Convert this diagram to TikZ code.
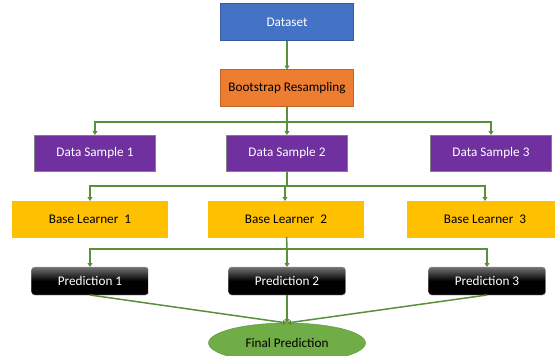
\documentclass[tikz,border=0pt]{standalone}
\usepackage{fontspec}
\setmainfont{Carlito}
\usetikzlibrary{arrows.meta}
\usetikzlibrary{shapes.geometric}
\definecolor{dsblue}{HTML}{4472C4}
\definecolor{bsorange}{HTML}{ED7D31}
\definecolor{smpurple}{HTML}{7030A0}
\definecolor{lngold}{HTML}{FFC000}
\definecolor{fpgreen}{HTML}{70AD47}
\definecolor{arrgreen}{HTML}{5B8F3A}
\tikzstyle{block}=[draw, inner sep=0, outer sep=0, minimum height=36pt, font=\fontsize{13.2}{15}\selectfont]
\tikzstyle{datablock}=[block, fill=dsblue, draw=dsblue!80!black, text=white, minimum width=133pt, minimum height=37pt]
\tikzstyle{bootblock}=[block, fill=bsorange, draw=bsorange!80!black, minimum width=133pt, minimum height=37pt]
\tikzstyle{sampleblock}=[block, fill=smpurple, draw=gray, text=white, minimum width=121pt]
\tikzstyle{learnerblock}=[block, fill=lngold, draw=lngold, minimum width=155pt]
\tikzstyle{predblock}=[block, rounded corners=3pt, top color=black!55, bottom color=black, middle color=black, draw=gray!60, text=white, minimum width=117pt, minimum height=28pt]
\tikzstyle{finalblock}=[block, ellipse, fill=fpgreen, draw=fpgreen!85!black, minimum width=157pt, minimum height=40pt]
\tikzstyle{flow}=[draw=arrgreen, line width=1.5pt, -{Triangle[width=5pt,length=4pt]}]
\tikzstyle{bagging}=[x=1pt, y=-1pt,
                     % Keep the page at its fixed size.
                     execute at begin picture={\useasboundingbox (0,0) rectangle (555,356); \clip (0,0) rectangle (555,356);}]

\begin{document}
\begin{tikzpicture}[bagging]
        \node[datablock]                 (data) at (287, 22) {Dataset};
        \node[bootblock]                 (boot) at (287, 88) {Bootstrap Resampling};
        \node[sampleblock]               (S1) at (95, 153) {Data Sample 1};
        \node[sampleblock]               (S2) at (287, 153) {Data Sample 2};
        \node[sampleblock]               (S3) at (491, 153) {Data Sample 3};
        \node[learnerblock]              (L1) at (90, 219) {Base Learner\ \ 1};
        \node[learnerblock]              (L2) at (286, 219) {Base Learner\ \ 2};
        \node[learnerblock]              (L3) at (485, 219) {Base Learner\ \ 3};
        \node[predblock]                 (P1) at (90, 281) {Prediction 1};
        \node[predblock]                 (P2) at (287, 281) {Prediction 2};
        \node[predblock]                 (P3) at (487, 281) {Prediction 3};
        \node[finalblock]                (final) at (287, 343) {Final Prediction};
        \coordinate (split1) at (287, 122);
        \coordinate (split2) at (287, 186);
        \coordinate (split3) at (287, 249);
        \draw[flow] (data) -- (boot);
        \draw[flow, -] (boot) -- (split1);
        \draw[flow] (split1) -| (S1);
        \draw[flow] (split1) -- (S2);
        \draw[flow] (split1) -| (S3);
        \draw[flow, -] (S2) -- (split2);
        \draw[flow] (split2) -| (L1);
        \draw[flow] (split2) -| ([xshift=-1pt]L2.north);
        \draw[flow] (split2) -| (L3);
        \draw[flow, -] (L2) -- (split3);
        \draw[flow] (split3) -| (P1);
        \draw[flow] (split3) -- (P2);
        \draw[flow] (split3) -| (P3);
        \draw[flow] (P1.south) -- (final.north);
        \draw[flow] (P2) -- (final);
        \draw[flow] (P3.south) -- (final.north);
    \end{tikzpicture}
\end{document}
